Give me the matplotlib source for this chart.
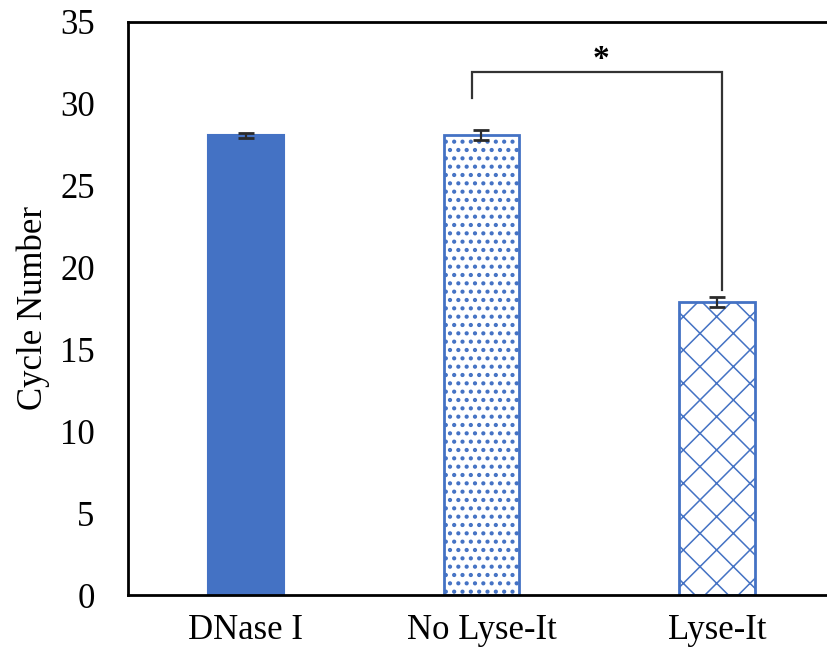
import matplotlib
matplotlib.use("Agg")
import matplotlib.pyplot as plt
import numpy as np

plt.rcParams['font.family'] = ['Liberation Serif', 'DejaVu Serif']
plt.rcParams['hatch.linewidth'] = 1.2

categories = ["DNase I", "No Lyse-It", "Lyse-It"]
values = [28.08, 28.1, 17.9]
errors = [0.14, 0.28, 0.3]
yticks = [0, 5, 10, 15, 20, 25, 30, 35]

# significance bracket (data coords)
sig_y = 31.95
sig_left_bottom = 30.35
sig_right_bottom = 18.6
sig_label = "*"

blue = "#4472C4"

fig = plt.figure(figsize=(8.28, 6.55), dpi=100)
ax = fig.add_axes([128/828, 60/655, (835-128)/828, 573/655])

x = np.arange(len(categories))
w = 0.32
ax.bar(x[0], values[0], w, color=blue, edgecolor=blue, linewidth=1.5, zorder=2)
b2 = ax.bar(x[1], values[1], w, color="white", edgecolor="#3060B8", hatch="..", linewidth=2, zorder=2)
b3 = ax.bar(x[2], values[2], w, color="white", edgecolor=blue, hatch="x", linewidth=2, zorder=2)
for p in b2.patches:
    if hasattr(p, "set_hatch_linewidth"):
        p.set_hatch_linewidth(1.8)
for p in b3.patches:
    if hasattr(p, "set_hatch_linewidth"):
        p.set_hatch_linewidth(1.1)
for p in b2.patches:
    p.set_edgecolor(blue)
    if hasattr(p, "set_hatchcolor"):
        p.set_hatchcolor("#2a56a8")

ax.errorbar(x, values, yerr=errors, fmt="none", ecolor="#2b2b2b", elinewidth=1.6,
            capsize=5.5, capthick=2, zorder=3)

# bracket
xl = x[1] - 0.04
xr = x[2] + 0.022
ax.plot([xl, xl, xr, xr], [sig_left_bottom, sig_y, sig_y, sig_right_bottom],
        color="#333333", lw=1.6, zorder=3, solid_joinstyle="miter")
ax.text((x[1] + x[2]) / 2 + 0.005, sig_y + 0.75, sig_label, ha="center", va="center",
        fontsize=24, fontweight="bold", color="black")

ax.set_xlim(-0.5, 2.5)
ax.set_ylim(0, 35)
ax.set_yticks(yticks)
ax.set_xticks(x)
ax.set_xticklabels(categories)
ax.tick_params(axis="both", length=0, labelsize=25)
ax.tick_params(axis="y", pad=24)
ax.tick_params(axis="x", pad=14)
ax.set_ylabel("Cycle Number", fontsize=25, labelpad=7)

for s in ["left", "bottom", "top"]:
    ax.spines[s].set_linewidth(2)
    ax.spines[s].set_color("black")
ax.spines["right"].set_visible(False)

fig.savefig("out.png", dpi=100)
